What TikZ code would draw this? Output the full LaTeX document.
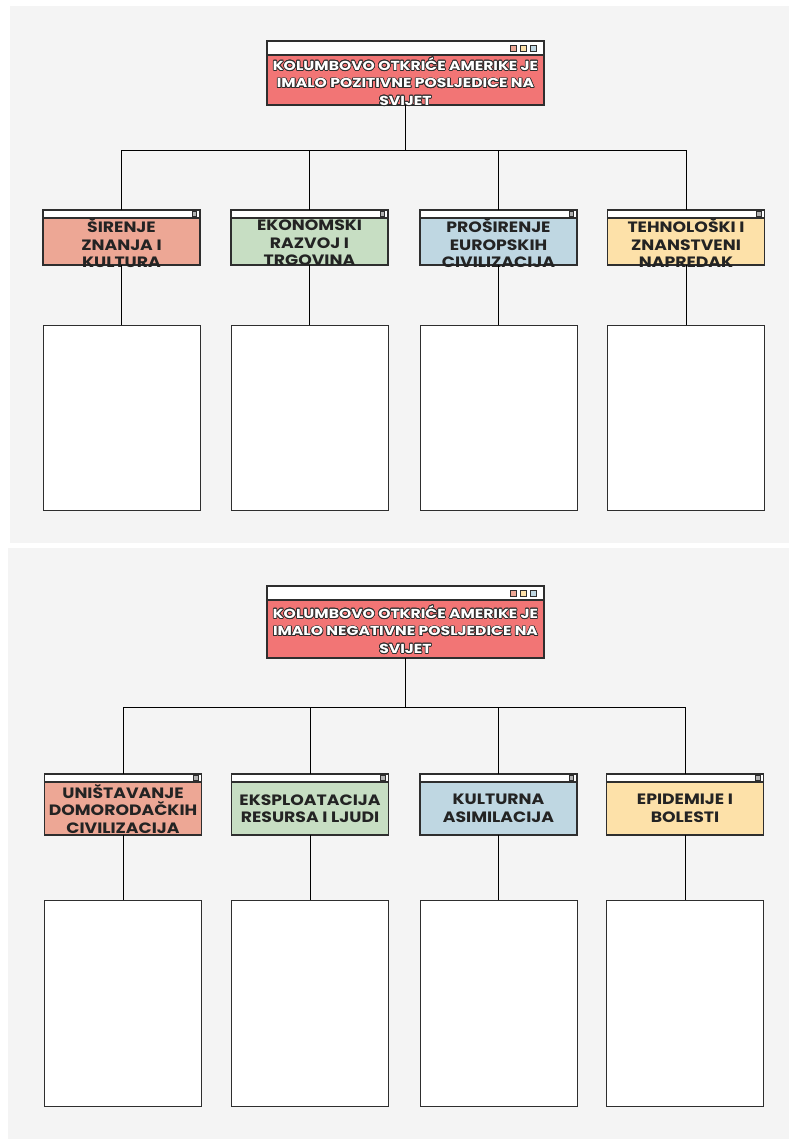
\documentclass[tikz,border=0pt]{standalone}
\usepackage{fontspec}
\setmainfont{Poppins}
\newfontfamily\titlefont{Poppins}[FakeStretch=1.2]
\newfontfamily\catfont{Poppins}[FakeStretch=1.15]
\usepackage{contour}
\contourlength{0.7pt}
\definecolor{paper}{HTML}{F4F4F4}
\definecolor{edge}{HTML}{2E2E2E}
\definecolor{titlered}{HTML}{F27575}
\definecolor{csalmon}{HTML}{EDA795}
\definecolor{cgreen}{HTML}{C7DEC3}
\definecolor{cblue}{HTML}{BFD7E2}
\definecolor{cyellow}{HTML}{FDE1A9}
\definecolor{ink}{HTML}{232323}
\newcommand{\wt}[1]{\contour{edge}{#1}}
\begin{document}
\begin{tikzpicture}[x=1pt,y=-1pt,
  box/.style={draw=edge,line width=1.2pt,inner sep=0pt,outer sep=0pt},
  titlehead/.style={box,fill=white,minimum width=277pt,minimum height=14pt},
  titlebody/.style={box,fill=titlered,minimum width=277pt},
  titletext/.style={align=center,text=white,font=\titlefont\bfseries\fontsize{13}{17.5}\selectfont,inner sep=0pt},
  cathead/.style={box,fill=white,minimum width=157pt,minimum height=8pt},
  catbody/.style={box,minimum width=157pt},
  cattext/.style={align=center,text=ink,font=\catfont\bfseries\fontsize{15}{17.5}\selectfont,inner sep=0pt},
  content/.style={draw=edge,line width=0.9pt,fill=white,minimum width=157pt,inner sep=0pt},
  link/.style={draw=black,line width=1pt},
  dot/.style={draw=edge,line width=0.8pt,minimum size=6pt,inner sep=0pt},
  sdot/.style={draw=edge,line width=0.8pt,fill=gray!60,minimum size=4.5pt,inner sep=0pt}
]
\useasboundingbox (0,0) rectangle (789,1139);
\fill[white] (0,0) rectangle (789,1139);
\fill[paper] (10,6) rectangle (789,543);
\fill[paper] (8,548) rectangle (789,1139);

% ===== top section =====
\node[titlehead] (th1) at (405.5,48) {};
\node[titlebody,minimum height=50pt] (t1) at (405.5,80) {};
\node[dot,fill=csalmon] (d11) at (513,48) {};
\node[dot,fill=cyellow] (d12) at (523,48) {};
\node[dot,fill=cblue] (d13) at (533,48) {};
\node[titletext] (tt1) at (405.5,82) {\wt{KOLUMBOVO OTKRIĆE AMERIKE JE}\\\wt{IMALO POZITIVNE POSLJEDICE NA}\\\wt{SVIJET}};

\coordinate (j1) at (405.5,151);

\foreach \i/\x/\col/\txt in {1/121.5/csalmon/{ŠIRENJE\\ZNANJA I\\KULTURA},
                             2/309.5/cgreen/{EKONOMSKI\\RAZVOJ I\\TRGOVINA},
                             3/498.5/cblue/{PROŠIRENJE\\EUROPSKIH\\CIVILIZACIJA},
                             4/686/cyellow/{TEHNOLOŠKI I\\ZNANSTVENI\\NAPREDAK}}{
  \node[cathead] (ah\i) at (\x,214) {};
  \node[sdot] at (\x+73,214) {};
  \node[catbody,fill=\col,minimum height=47pt] (ab\i) at (\x,241.5) {};
  \node[cattext] (at\i) at (\x,243) {\txt};
  \node[content,minimum height=185pt] (ac\i) at (\x,417.5) {};
  \draw[link] (j1) -| (ah\i.north);
  \draw[link] (ab\i.south) -- (ac\i.north);
}
\draw[link] (t1.south) -- (j1);

% ===== bottom section =====
\node[titlehead] (th2) at (405.5,593) {};
\node[titlebody,minimum height=58pt] (t2) at (405.5,629) {};
\node[dot,fill=csalmon] (d21) at (513,593) {};
\node[dot,fill=cyellow] (d22) at (523,593) {};
\node[dot,fill=cblue] (d23) at (533,593) {};
\node[titletext] (tt2) at (405.5,630) {\wt{KOLUMBOVO OTKRIĆE AMERIKE JE}\\\wt{IMALO NEGATIVNE POSLJEDICE NA}\\\wt{SVIJET}};

\coordinate (j2) at (405.5,707);

\foreach \i/\x/\col/\txt in {1/123/csalmon/{UNIŠTAVANJE\\DOMORODAČKIH\\CIVILIZACIJA},
                             2/310/cgreen/{EKSPLOATACIJA\\RESURSA I LJUDI},
                             3/498.5/cblue/{KULTURNA\\ASIMILACIJA},
                             4/685/cyellow/{EPIDEMIJE I\\BOLESTI}}{
  \node[cathead] (bh\i) at (\x,778) {};
  \node[sdot] at (\x+73,778) {};
  \node[catbody,fill=\col,minimum height=53pt] (bb\i) at (\x,808.5) {};
  \node[cattext] (bt\i) at (\x,808.5) {\txt};
  \node[content,minimum height=206pt] (bc\i) at (\x,1003) {};
  \draw[link] (j2) -| (bh\i.north);
  \draw[link] (bb\i.south) -- (bc\i.north);
}
\draw[link] (t2.south) -- (j2);
\end{tikzpicture}
\end{document}
